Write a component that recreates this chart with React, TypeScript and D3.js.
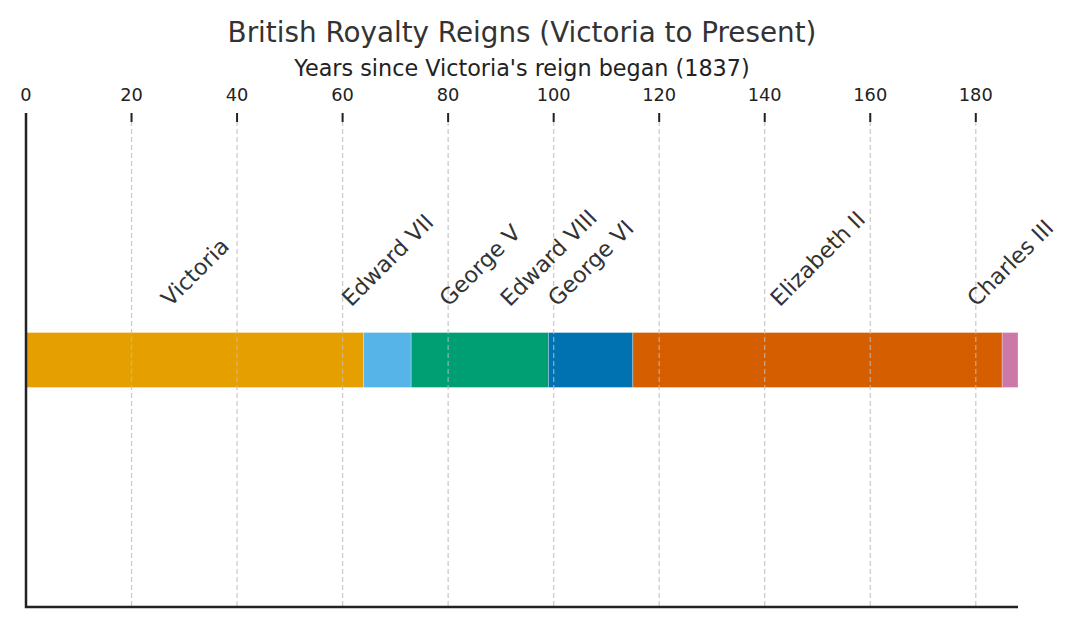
import React, { useEffect, useRef } from "react";
import * as d3 from "d3";

const monarchs = ["Victoria", "Edward VII", "George V", "Edward VIII", "George VI", "Elizabeth II", "Charles III"];
const startYears = [0, 64, 73, 99, 99, 115, 185];
const durations = [64, 9, 26, 0, 16, 70, 3];
const colors = ["#E69F00", "#56B4E9", "#009E73", "#F0E442", "#0072B2", "#D55E00", "#CC79A7"];
const xTicks = [0, 20, 40, 60, 80, 100, 120, 140, 160, 180];

const W = 1076, H = 627;
const FONT = "DejaVu Sans, sans-serif";

export default function App() {
  const ref = useRef<SVGSVGElement>(null);
  useEffect(() => {
    const svg = d3.select(ref.current);
    svg.selectAll("*").remove();
    const left = 26, right = 1018, top = 113, bottom = 607;
    const x = d3.scaleLinear().domain([0, 188]).range([left, right]);
    const y = d3.scaleLinear().domain([-2, 2]).range([bottom, top]);
    const barH = 0.445;

    // bars
    svg.append("g").selectAll("rect").data(monarchs).join("rect")
      .attr("x", (_, i) => x(startYears[i]))
      .attr("width", (_, i) => x(startYears[i] + durations[i]) - x(startYears[i]))
      .attr("y", y(barH / 2))
      .attr("height", y(-barH / 2) - y(barH / 2))
      .attr("fill", (_, i) => colors[i])
      .attr("stroke", "white").attr("stroke-opacity", 0.35).attr("stroke-width", 0.8);

    // grid
    svg.append("g").selectAll("line").data(xTicks.filter(t => t > 0)).join("line")
      .attr("x1", d => x(d)).attr("x2", d => x(d))
      .attr("y1", top).attr("y2", bottom)
      .attr("stroke", "#bbbbbb").attr("stroke-opacity", 0.75)
      .attr("stroke-width", 1.3).attr("stroke-dasharray", "5,3");

    // ticks
    const tg = svg.append("g");
    tg.selectAll("line").data(xTicks).join("line")
      .attr("x1", d => x(d)).attr("x2", d => x(d))
      .attr("y1", top).attr("y2", top + 9)
      .attr("stroke", "#222").attr("stroke-width", 2);
    tg.selectAll("text").data(xTicks).join("text")
      .attr("x", d => x(d)).attr("y", 101)
      .attr("text-anchor", "middle")
      .attr("font-family", FONT).attr("font-size", 17.8).attr("fill", "#222")
      .text(d => String(d));

    // spines
    svg.append("path")
      .attr("d", `M${left},${top}V${bottom}H${right}`)
      .attr("fill", "none").attr("stroke", "#222").attr("stroke-width", 2.5);

    // labels
    const fs = 22.3;
    const hgt = fs * 1.164;
    const yb = 311;
    monarchs.forEach((m, i) => {
      const xm = x(startYears[i] + durations[i] / 2);
      const t = svg.append("text")
        .attr("font-family", FONT).attr("font-size", fs).attr("fill", "#333")
        .attr("text-anchor", "middle").attr("dominant-baseline", "central")
        .text(m);
      const L = (t.node() as SVGTextElement).getComputedTextLength();
      const half = (L + hgt) / (2 * Math.SQRT2);
      t.attr("transform", `translate(${xm},${yb - half}) rotate(-45)`);
    });

    // titles
    svg.append("text").attr("x", 522).attr("y", 42).attr("text-anchor", "middle")
      .attr("font-family", FONT).attr("font-size", 27.8).attr("fill", "#333")
      .text("British Royalty Reigns (Victoria to Present)");
    svg.append("text").attr("x", 522).attr("y", 76).attr("text-anchor", "middle")
      .attr("font-family", FONT).attr("font-size", 22.3).attr("fill", "#222")
      .text("Years since Victoria's reign began (1837)");
  }, []);
  return (
    <svg ref={ref} width={W} height={H} style={{ position: "absolute", left: 0, top: 0, background: "white" }} />
  );
}
